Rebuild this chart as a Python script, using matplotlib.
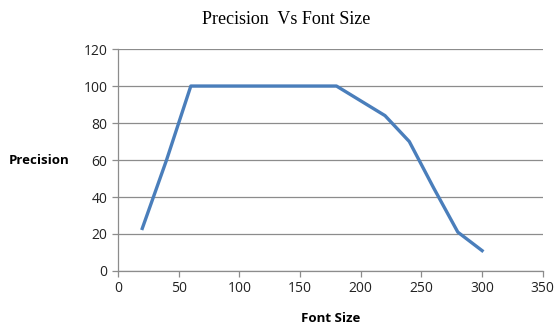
import numpy as np
import matplotlib.pyplot as plt

# data
font_size = [20, 40, 60, 80, 100, 120, 140, 160, 180, 220, 240, 260, 280, 300]
precision = [23, 60, 100, 100, 100, 100, 100, 100, 100, 84, 70, 45, 21, 11]
xticks = [0, 50, 100, 150, 200, 250, 300, 350]
yticks = [0, 20, 40, 60, 80, 100, 120]

fig = plt.figure(figsize=(5.55, 3.27), dpi=100)
ax = fig.add_axes([0.2126, 0.1713, 0.7654, 0.6787])

ax.plot(font_size, precision, color='#4A7EBB', linewidth=2.4, solid_joinstyle='round')

ax.set_xlim(0, 350)
ax.set_ylim(0, 120)
ax.set_xticks(xticks)
ax.set_yticks(yticks)
ax.yaxis.grid(True, color='#8C8C8C', linewidth=0.9)
ax.set_axisbelow(True)

for s in ['top', 'right']:
	ax.spines[s].set_visible(False)
for s in ['left', 'bottom']:
	ax.spines[s].set_color('#8C8C8C')
	ax.spines[s].set_linewidth(0.9)
ax.tick_params(colors='#8C8C8C', length=4, width=0.9, labelcolor='#222222', labelsize=10)
for lab in ax.get_xticklabels() + ax.get_yticklabels():
	lab.set_family('Open Sans')

ax.set_xlabel('Font Size', fontweight='bold', family='Open Sans', fontsize=9.5, labelpad=11)
ax.set_ylabel('Precision', fontweight='bold', family='Open Sans', fontsize=9.5, rotation=0, labelpad=32, va='center')
fig.text(0.515, 0.94, 'Precision  Vs Font Size', ha='center', va='center', family='Liberation Serif', fontsize=13)

plt.savefig('out.png')
